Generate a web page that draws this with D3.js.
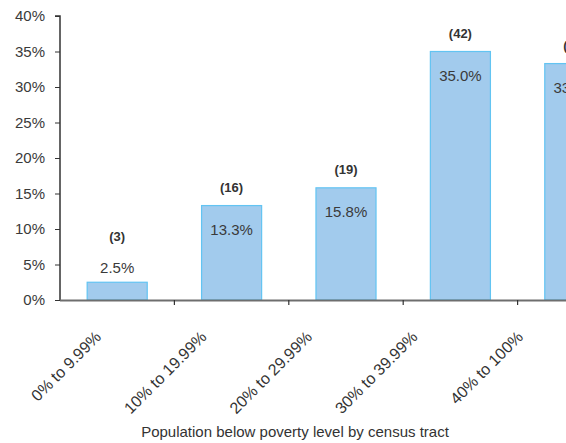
<!DOCTYPE html>
<html>
<head>
<meta charset="utf-8">
<script src="https://cdn.jsdelivr.net/npm/d3@7"></script>
<style>
  body { margin: 0; background: #fff; }
  svg { display: block; }
  text { font-family: "Liberation Sans", Arial, sans-serif; }
</style>
</head>
<body>
<svg id="chart" width="566" height="443"></svg>
<script>
// poverty bands by census tract
let categories = ['0% to 9.99%', '10% to 19.99%', '20% to 29.99%', '30% to 39.99%', '40% to 100%'];
let shares = [0.025, 0.133, 0.158, 0.35, 0.333];
let tractCounts = [3, 16, 19, 42, 40];
let yTicks = [0, 0.05, 0.1, 0.15, 0.2, 0.25, 0.3, 0.35, 0.4];
let xTitle = 'Population below poverty level by census tract';

const svg = d3.select('#chart');

// plot runs past the right edge, like the cropped original
const x = d3.scaleBand()
  .domain(categories)
  .range([60, 632])
  .paddingInner(0.475)
  .paddingOuter(0.2375);

const y = d3.scaleLinear().domain([0, 0.4]).range([300, 16]);

// category labels sit a bit left of the bars
const labelX = d3.scalePoint().domain(categories).range([102, 524]);

// bars
svg.selectAll('rect.bar')
  .data(shares)
  .join('rect')
  .attr('class', 'bar')
  .attr('x', (d, i) => x(categories[i]))
  .attr('y', (d) => y(d))
  .attr('width', x.bandwidth())
  .attr('height', (d) => y(0) - y(d))
  .style('fill', '#a2cbed')
  .style('stroke', '#62c4f2')
  .style('stroke-width', 1.2);

// y axis
const yAxis = svg.append('g')
  .attr('transform', 'translate(60,0)')
  .call(d3.axisLeft(y).tickValues(yTicks).tickFormat(d3.format('.0%')).tickSize(5).tickPadding(10));
yAxis.select('.domain').attr('stroke', '#333').attr('stroke-width', 1.5).attr('d', `M-5,${y(0.4)}H0V${y(0)}`);
yAxis.selectAll('.tick line').attr('stroke', '#333');
yAxis.selectAll('.tick text')
  .attr('fill', '#3a3a3a')
  .style('font-size', '15px')
  .style('font-family', '"Liberation Sans", Arial, sans-serif');

// x axis line with ticks at band edges
const step = x.step();
const edges = categories.map((c) => x(c) - (step - x.bandwidth()) / 2).concat([632]);
svg.append('line')
  .attr('x1', 60).attr('x2', 632)
  .attr('y1', y(0) + 0.5).attr('y2', y(0) + 0.5)
  .attr('stroke', '#6e6e6e')
  .attr('stroke-width', 2.2);
svg.selectAll('line.xtick')
  .data(edges.slice(1))
  .join('line')
  .attr('class', 'xtick')
  .attr('x1', (d) => d).attr('x2', (d) => d)
  .attr('y1', y(0)).attr('y2', y(0) + 5)
  .attr('stroke', '#333')
  .attr('stroke-width', 1.2);

// category labels, rotated
svg.selectAll('text.cat')
  .data(categories)
  .join('text')
  .attr('class', 'cat')
  .attr('transform', (d) => `translate(${labelX(d)},338) rotate(-45)`)
  .attr('text-anchor', 'end')
  .style('font-size', '16px')
  .attr('fill', '#333')
  .text((d) => d);

// percent labels: inside the bar, or above it if it is too short
svg.selectAll('text.pct')
  .data(shares)
  .join('text')
  .attr('class', 'pct')
  .attr('x', (d, i) => x(categories[i]) + x.bandwidth() / 2)
  .attr('y', (d) => (y(0) - y(d) > 40 ? y(d) + 29 : y(d) - 9))
  .attr('text-anchor', 'middle')
  .style('font-size', '15px')
  .attr('fill', '#3a3a3a')
  .text((d) => d3.format('.1%')(d));

// tract counts above
svg.selectAll('text.cnt')
  .data(tractCounts)
  .join('text')
  .attr('class', 'cnt')
  .attr('x', (d, i) => x(categories[i]) + x.bandwidth() / 2)
  .attr('y', (d, i) => {
    const top = y(shares[i]);
    return y(0) - top > 40 ? top - 14 : top - 41;
  })
  .attr('text-anchor', 'middle')
  .style('font-size', '13px')
  .style('font-weight', 'bold')
  .attr('fill', '#333')
  .text((d) => `(${d})`);

// axis title
svg.append('text')
  .attr('x', 295)
  .attr('y', 437)
  .attr('text-anchor', 'middle')
  .style('font-size', '15px')
  .attr('fill', '#333')
  .text(xTitle);
</script>
</body>
</html>
